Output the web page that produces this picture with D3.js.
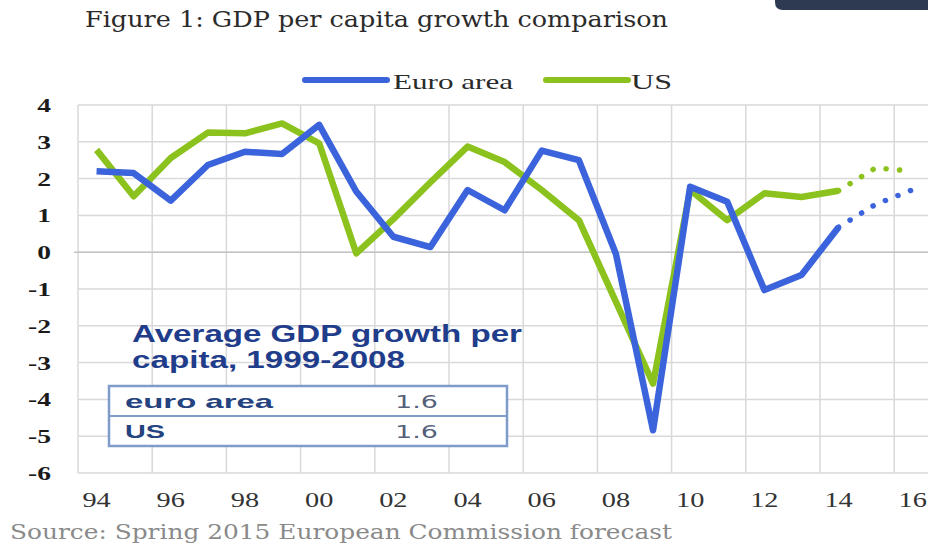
<!DOCTYPE html>
<html>
<head>
<meta charset="utf-8">
<script src="https://cdn.jsdelivr.net/npm/d3@7"></script>
<style>
  body { margin: 0; background: #fff; }
  svg { display: block; }
</style>
</head>
<body>
<div id="chart"></div>
<script>
// years shown on the category axis
var years = d3.range(1994, 2017);
var tickYears = [1994, 1996, 1998, 2000, 2002, 2004, 2006, 2008, 2010, 2012, 2014, 2016];
var yTicks = [4, 3, 2, 1, 0, -1, -2, -3, -4, -5, -6];

// actual values 1994-2014
var actualYears = d3.range(1994, 2015);
var euroArea = [2.2, 2.15, 1.4, 2.37, 2.73, 2.67, 3.46, 1.65, 0.42, 0.14, 1.69, 1.14, 2.76, 2.5, -0.05, -4.84, 1.78, 1.37, -1.03, -0.62, 0.68];
var us = [2.78, 1.52, 2.56, 3.25, 3.23, 3.5, 2.96, -0.03, 0.9, 1.9, 2.87, 2.45, 1.69, 0.87, -1.35, -3.57, 1.69, 0.87, 1.6, 1.5, 1.67];

// forecast (dotted), starting from the last actual year
var forecastYears = [2014, 2015, 2016];
var euroForecast = [0.68, 1.3, 1.7];
var usForecast = [1.67, 2.29, 2.2];

// inset table
var tableRows = ["euro area", "US"];
var tableValues = ["1.6", "1.6"];

function init() {

    var w = 928;
    var h = 544;
    var sx = 1.45; // the picture is stretched sideways

    var blue = "#3b63db";
    var green = "#8cc21d";
    var grid = "#d9d9d9";

    var xScale = d3.scaleBand()
        .domain(years)
        .range([78, 78 + 23 * 37.1]);

    var yScale = d3.scaleLinear()
        .domain([-6, 4])
        .range([473, 105]);

    var cx = function (yr) { return xScale(yr) + xScale.bandwidth() / 2; };

    var svg = d3.select("#chart")
        .append("svg")
        .attr("width", w)
        .attr("height", h);

    //dark bar top right
    svg.append("path")
        .attr("d", "M775,0 H928 V10 H783 Q775,10 775,2 Z")
        .attr("fill", "#2e3a52");

    //title
    svg.append("text")
        .attr("x", 85)
        .attr("y", 27)
        .attr("textLength", 583)
        .attr("lengthAdjust", "spacingAndGlyphs")
        .style("font-family", "DejaVu Serif")
        .style("font-size", "22px")
        .attr("fill", "#2b2b2b")
        .text("Figure 1: GDP per capita growth comparison");

    //horizontal gridlines
    svg.append("g")
        .selectAll("line")
        .data(yTicks)
        .enter()
        .append("line")
        .attr("x1", 78)
        .attr("x2", w)
        .attr("y1", function (d) { return yScale(d); })
        .attr("y2", function (d) { return yScale(d); })
        .attr("stroke", grid)
        .attr("stroke-width", 1.5);

    //vertical gridlines on every second year
    svg.append("g")
        .selectAll("line")
        .data(tickYears)
        .enter()
        .append("line")
        .attr("x1", function (d) { return xScale(d); })
        .attr("x2", function (d) { return xScale(d); })
        .attr("y1", yScale(4))
        .attr("y2", yScale(-6))
        .attr("stroke", grid)
        .attr("stroke-width", 1.5);

    //category axis crossing at zero
    svg.append("line")
        .attr("x1", 74)
        .attr("x2", w)
        .attr("y1", yScale(0))
        .attr("y2", yScale(0))
        .attr("stroke", "#c4c4c4")
        .attr("stroke-width", 1.5);

    //y axis labels
    var yAxis = d3.axisLeft(yScale)
        .tickValues(yTicks)
        .tickSize(0)
        .tickFormat(function (d) { return String(d); });

    var gy = svg.append("g")
        .attr("transform", "translate(51,0)")
        .call(yAxis);
    gy.select(".domain").remove();
    gy.selectAll("text")
        .attr("x", 0)
        .attr("dy", "0.34em")
        .attr("transform", "scale(" + sx + ",1)")
        .style("font-family", "Liberation Serif")
        .style("font-size", "19px")
        .style("font-weight", "bold")
        .attr("fill", "#1a1a1a");

    //x axis labels
    var xAxis = d3.axisBottom(xScale)
        .tickValues(tickYears)
        .tickSize(0)
        .tickFormat(function (d) { return String(d).slice(2); });

    var gx = svg.append("g")
        .attr("transform", "translate(0,507)")
        .call(xAxis);
    gx.select(".domain").remove();
    gx.selectAll("text")
        .attr("y", 0)
        .attr("dy", 0)
        .attr("transform", "scale(1.35,1)")
        .style("font-family", "Liberation Serif")
        .style("font-size", "21px")
        .attr("fill", "#333");

    //inset text
    svg.append("text")
        .attr("x", 132)
        .attr("y", 342)
        .attr("textLength", 390)
        .attr("lengthAdjust", "spacingAndGlyphs")
        .style("font-family", "Liberation Sans")
        .style("font-weight", "bold")
        .style("font-size", "23px")
        .attr("fill", "#1f3d8a")
        .text("Average GDP growth per");

    svg.append("text")
        .attr("x", 132)
        .attr("y", 368)
        .attr("textLength", 273)
        .attr("lengthAdjust", "spacingAndGlyphs")
        .style("font-family", "Liberation Sans")
        .style("font-weight", "bold")
        .style("font-size", "23px")
        .attr("fill", "#1f3d8a")
        .text("capita, 1999-2008");

    //inset table
    var table = svg.append("g");
    table.append("rect")
        .attr("x", 109)
        .attr("y", 386)
        .attr("width", 398)
        .attr("height", 60)
        .attr("fill", "#fff")
        .attr("stroke", "#7f9bc9")
        .attr("stroke-width", 2.5);
    table.append("line")
        .attr("x1", 109)
        .attr("x2", 507)
        .attr("y1", 416)
        .attr("y2", 416)
        .attr("stroke", "#7f9bc9")
        .attr("stroke-width", 2);

    table.selectAll(".rowname")
        .data(tableRows)
        .enter()
        .append("text")
        .attr("class", "rowname")
        .attr("x", 125)
        .attr("y", function (d, i) { return 408 + i * 30; })
        .attr("textLength", function (d) { return d == "US" ? 40 : 148; })
        .attr("lengthAdjust", "spacingAndGlyphs")
        .style("font-family", "Liberation Sans")
        .style("font-weight", "bold")
        .style("font-size", "19px")
        .attr("fill", "#25437f")
        .text(function (d) { return d; });

    table.selectAll(".rowval")
        .data(tableValues)
        .enter()
        .append("text")
        .attr("class", "rowval")
        .attr("x", 395)
        .attr("y", function (d, i) { return 408 + i * 30; })
        .attr("textLength", 43)
        .attr("lengthAdjust", "spacingAndGlyphs")
        .style("font-family", "DejaVu Sans")
        .style("font-size", "18px")
        .attr("fill", "#55607a")
        .text(function (d) { return d; });

    //lines
    var line = d3.line()
        .x(function (d) { return cx(d.year); })
        .y(function (d) { return yScale(d.value); });

    function pairs(yrs, vals) {
        return yrs.map(function (yr, i) { return { year: yr, value: vals[i] }; });
    }

    var series = [
        { values: us, fvalues: usForecast, color: green },
        { values: euroArea, fvalues: euroForecast, color: blue }
    ];

    series.forEach(function (s) {
        svg.append("path")
            .datum(pairs(actualYears, s.values))
            .attr("d", line)
            .attr("fill", "none")
            .attr("stroke", s.color)
            .attr("stroke-width", 6.5)
            .attr("stroke-linejoin", "round");

        svg.append("path")
            .datum(pairs(forecastYears, s.fvalues))
            .attr("d", line)
            .attr("fill", "none")
            .attr("stroke", s.color)
            .attr("stroke-width", 5.5)
            .attr("stroke-linecap", "round")
            .attr("stroke-dasharray", "0.1 13.4");
    });

    //legend
    var legend = [
        { name: "Euro area", color: blue, x: 305, tx: 393, tw: 120 },
        { name: "US", color: green, x: 546, tx: 631, tw: 41 }
    ];

    var lg = svg.append("g")
        .selectAll("g")
        .data(legend)
        .enter()
        .append("g");

    lg.append("line")
        .attr("x1", function (d) { return d.x; })
        .attr("x2", function (d) { return d.x + 82; })
        .attr("y1", 80)
        .attr("y2", 80)
        .attr("stroke", function (d) { return d.color; })
        .attr("stroke-width", 6)
        .attr("stroke-linecap", "round");

    lg.append("text")
        .attr("x", function (d) { return d.tx; })
        .attr("y", 89)
        .attr("textLength", function (d) { return d.tw; })
        .attr("lengthAdjust", "spacingAndGlyphs")
        .style("font-family", "Liberation Serif")
        .style("font-size", "22px")
        .attr("fill", "#2a2a2a")
        .text(function (d) { return d.name; });

    //source
    svg.append("text")
        .attr("x", 10)
        .attr("y", 539)
        .attr("textLength", 662)
        .attr("lengthAdjust", "spacingAndGlyphs")
        .style("font-family", "DejaVu Serif")
        .style("font-size", "21px")
        .attr("fill", "#8a8a8a")
        .text("Source: Spring 2015 European Commission forecast");
}

window.onload = init;
</script>
</body>
</html>
